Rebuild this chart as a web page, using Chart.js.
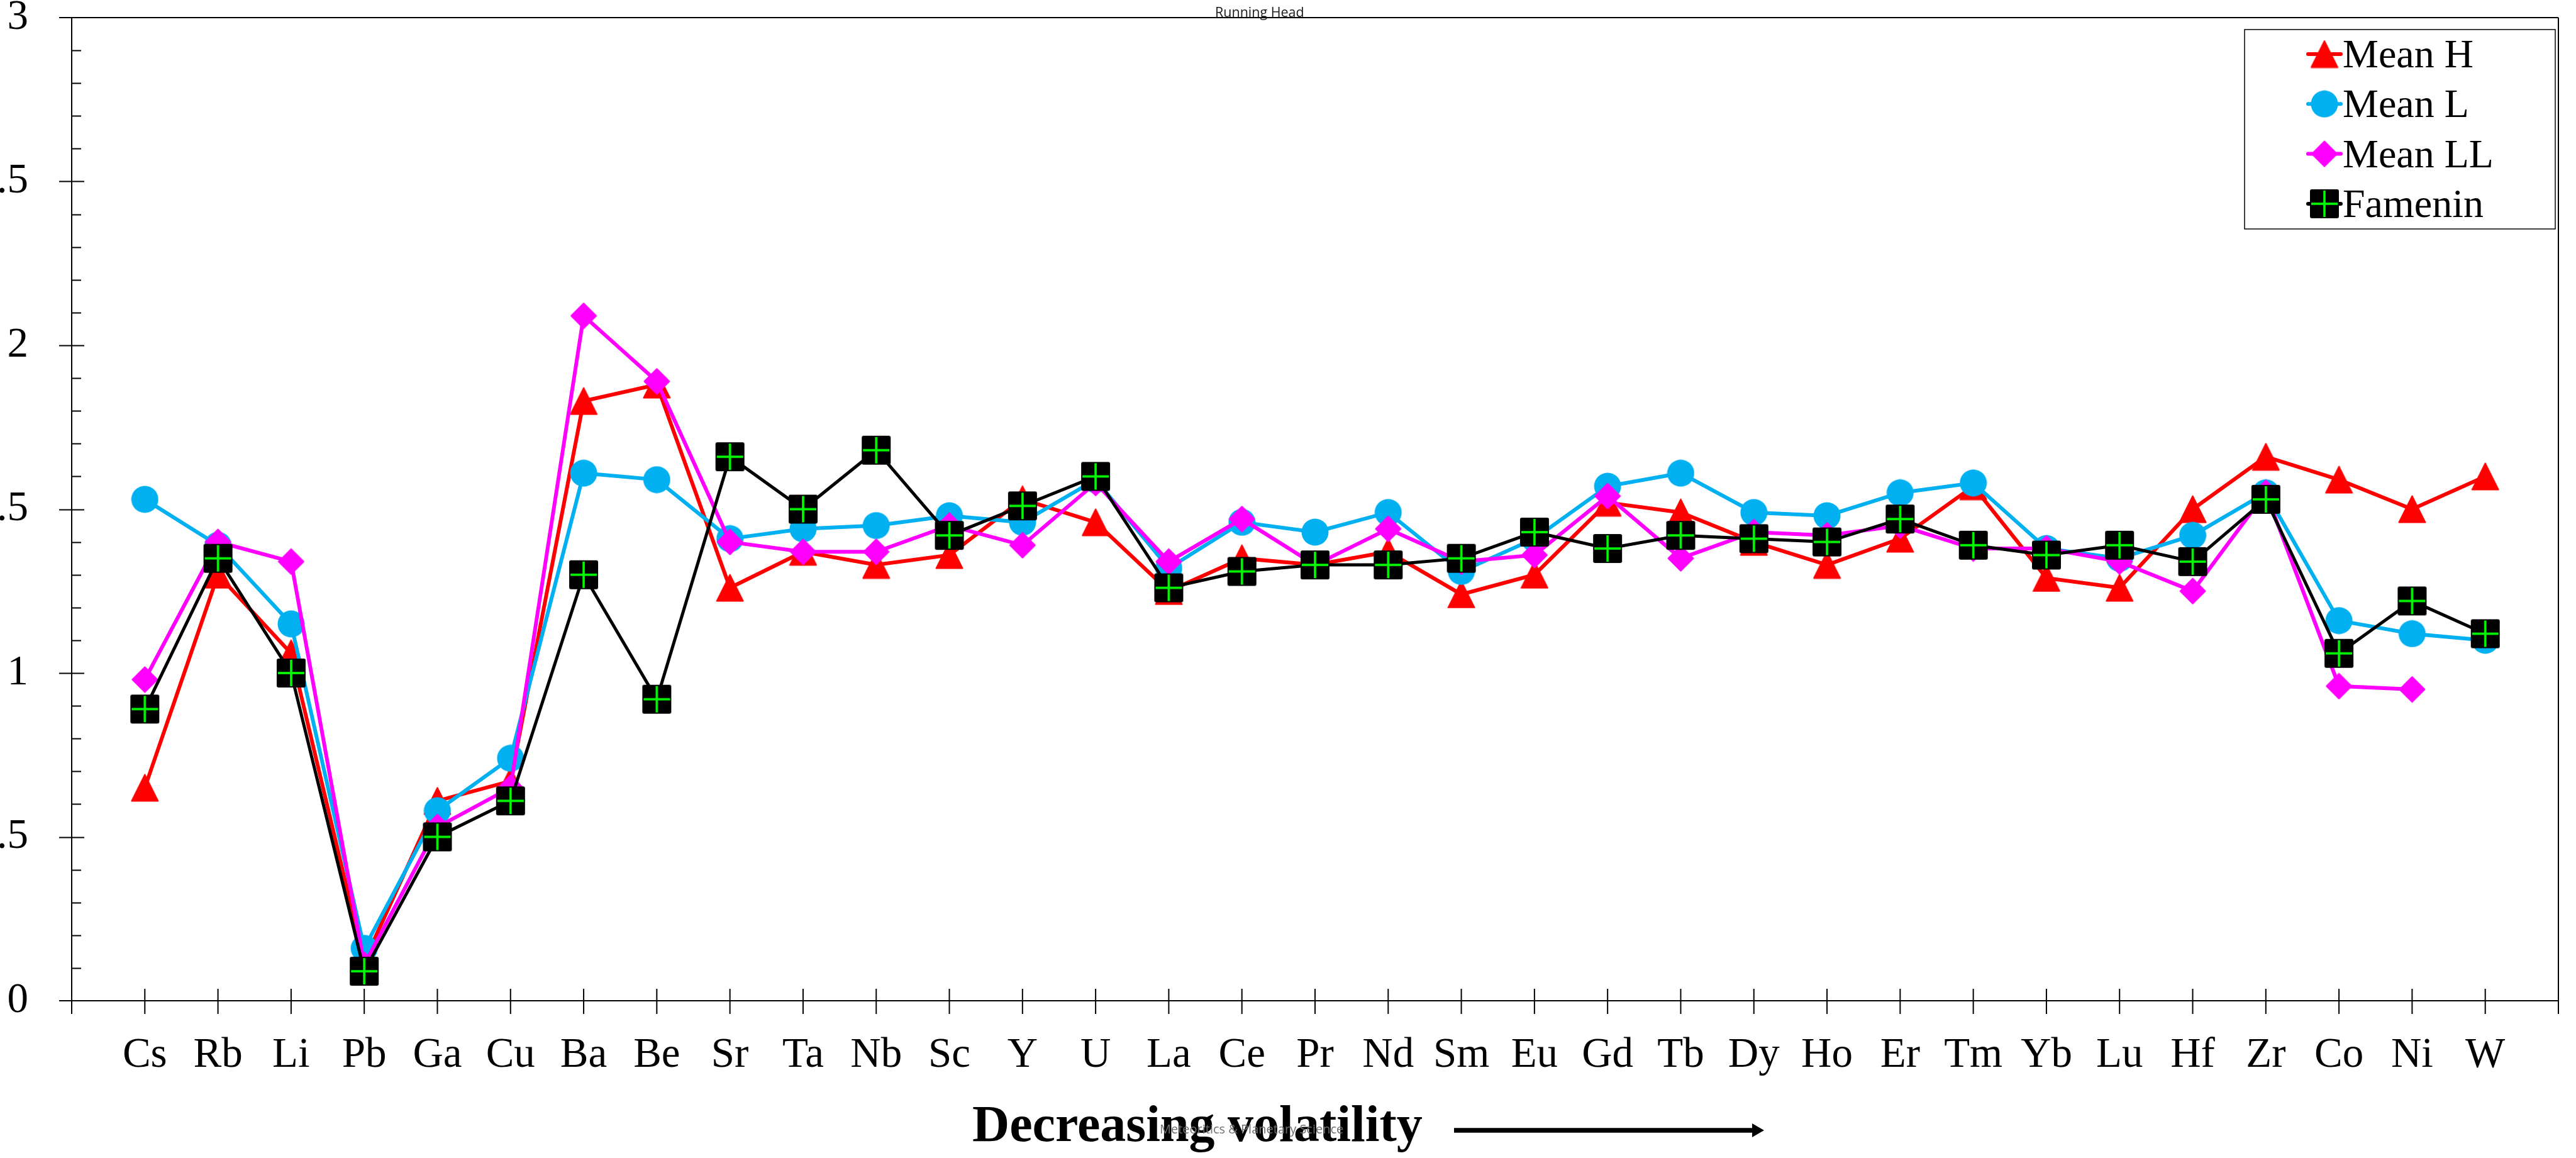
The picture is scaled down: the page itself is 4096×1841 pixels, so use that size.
<!DOCTYPE html>
<html>
<head>
<meta charset="utf-8">
<title>Decreasing volatility</title>
<script src="https://cdn.jsdelivr.net/npm/chart.js@4.4.1/dist/chart.umd.min.js"></script>
<style>
  html, body { margin: 0; padding: 0; background: #fff; overflow: hidden; }
  canvas { display: block; }
</style>
</head>
<body>
<canvas id="volatilityChart" width="4096" height="1841"></canvas>
<script>
// elements, ordered by decreasing volatility
const elements = ["Cs", "Rb", "Li", "Pb", "Ga", "Cu", "Ba", "Be", "Sr", "Ta", "Nb", "Sc", "Y", "U", "La",
  "Ce", "Pr", "Nd", "Sm", "Eu", "Gd", "Tb", "Dy", "Ho", "Er", "Tm", "Yb", "Lu", "Hf", "Zr", "Co", "Ni", "W"];

const meanH = [0.65, 1.30, 1.06, 0.12, 0.61, 0.67, 1.83, 1.88, 1.26, 1.37, 1.33, 1.36, 1.53, 1.46, 1.25,
  1.35, 1.33, 1.37, 1.24, 1.30, 1.52, 1.49, 1.40, 1.33, 1.41, 1.57, 1.29, 1.26, 1.50, 1.66, 1.59, 1.50, 1.60];

const meanL = [1.53, 1.39, 1.15, 0.16, 0.58, 0.74, 1.61, 1.59, 1.41, 1.44, 1.45, 1.48, 1.46, 1.59, 1.32,
  1.46, 1.43, 1.49, 1.31, 1.41, 1.57, 1.61, 1.49, 1.48, 1.55, 1.58, 1.38, 1.35, 1.42, 1.55, 1.16, 1.12, 1.10];

const meanLL = [0.98, 1.40, 1.34, 0.11, 0.53, 0.65, 2.09, 1.89, 1.40, 1.37, 1.37, 1.45, 1.39, 1.58, 1.34,
  1.47, 1.33, 1.44, 1.34, 1.36, 1.54, 1.35, 1.43, 1.42, 1.45, 1.38, 1.38, 1.34, 1.25, 1.55, 0.96, 0.95, null];

const famenin = [0.89, 1.35, 1.00, 0.09, 0.50, 0.61, 1.30, 0.92, 1.66, 1.50, 1.68, 1.42, 1.51, 1.60, 1.26,
  1.31, 1.33, 1.33, 1.35, 1.43, 1.38, 1.42, 1.41, 1.40, 1.47, 1.39, 1.36, 1.39, 1.34, 1.53, 1.06, 1.22, 1.12];

const yTicks = [0, 0.5, 1, 1.5, 2, 2.5, 3];

// marker sprites, used both on the plot and in the legend
function makeMarker(kind, size, color) {
  const c = document.createElement("canvas");
  c.width = size;
  c.height = size;
  const g = c.getContext("2d");
  const m = size / 2;
  g.fillStyle = color;
  g.strokeStyle = color;
  g.lineJoin = "round";
  g.lineWidth = 2;
  g.beginPath();
  if (kind === "triangle") {
    g.moveTo(m, 1.5);
    g.lineTo(size - 1.5, size - 1.5);
    g.lineTo(1.5, size - 1.5);
    g.closePath();
    g.fill();
    g.stroke();
  } else if (kind === "circle") {
    g.arc(m, m, m - 0.5, 0, Math.PI * 2);
    g.fill();
  } else if (kind === "diamond") {
    g.moveTo(m, 1.5);
    g.lineTo(size - 1.5, m);
    g.lineTo(m, size - 1.5);
    g.lineTo(1.5, m);
    g.closePath();
    g.fill();
    g.stroke();
  } else {
    g.roundRect(1, 1, size - 2, size - 2, 3);
    g.fill();
    g.fillStyle = "#00ff00";
    g.fillRect(3, m - 1.8, size - 6, 3.6);
    g.fillRect(m - 1.8, 3, 3.6, size - 6);
  }
  return c;
}

const series = [
  { label: "Mean H", data: meanH, color: "#ff0000", width: 6, marker: makeMarker("triangle", 45, "#ff0000") },
  { label: "Mean L", data: meanL, color: "#00b0f0", width: 6, marker: makeMarker("circle", 44, "#00b0f0") },
  { label: "Mean LL", data: meanLL, color: "#ff00ff", width: 6, marker: makeMarker("diamond", 43, "#ff00ff") },
  { label: "Famenin", data: famenin, color: "#000000", width: 5, marker: makeMarker("square", 48, "#000000") }
];

const serif = "'Liberation Serif', 'Times New Roman', serif";
const sans = "'Open Sans', 'Noto Sans', sans-serif";

// axis lines, frame and tick marks
const axisFrame = {
  id: "axisFrame",
  beforeDatasetsDraw(chart) {
    const { ctx, chartArea: a, scales: { x, y } } = chart;
    ctx.save();
    ctx.strokeStyle = "#000";
    ctx.lineWidth = 2;
    ctx.beginPath();
    ctx.moveTo(a.left, a.top);
    ctx.lineTo(a.left, a.bottom + 21);
    ctx.moveTo(a.right, a.top);
    ctx.lineTo(a.right, a.bottom + 21);
    ctx.moveTo(a.left - 20, a.bottom);
    ctx.lineTo(a.right, a.bottom);
    ctx.moveTo(a.left - 20, a.top);
    ctx.lineTo(a.right, a.top);
    for (let k = 1; k < 30; k++) {
      const py = Math.round(y.getPixelForValue(k / 10)) + 0.5;
      if (k % 5 === 0) {
        ctx.moveTo(a.left - 20, py);
        ctx.lineTo(a.left + 20, py);
      } else {
        ctx.moveTo(a.left, py);
        ctx.lineTo(a.left + 15, py);
      }
    }
    for (let i = 1; i <= elements.length; i++) {
      const px = x.getPixelForValue(i);
      ctx.moveTo(px, a.bottom - 19);
      ctx.lineTo(px, a.bottom + 21);
    }
    ctx.stroke();
    ctx.restore();
  }
};

// legend box, axis title, arrow and the page labels
const annotations = {
  id: "annotations",
  afterDraw(chart) {
    const ctx = chart.ctx;
    ctx.save();

    ctx.strokeStyle = "#000";
    ctx.lineWidth = 1.5;
    ctx.strokeRect(3569, 47, 494, 317);
    ctx.font = "64px " + serif;
    ctx.fillStyle = "#000";
    ctx.textAlign = "left";
    ctx.textBaseline = "alphabetic";
    series.forEach((s, i) => {
      const cy = 86 + i * 79.3;
      ctx.strokeStyle = s.color;
      ctx.lineWidth = 6;
      ctx.lineCap = "round";
      ctx.beginPath();
      ctx.moveTo(3670, cy);
      ctx.lineTo(3722, cy);
      ctx.stroke();
      ctx.drawImage(s.marker, 3696 - s.marker.width / 2, cy - s.marker.height / 2);
      ctx.fillStyle = "#000";
      ctx.fillText(s.label, 3725, cy + 21);
    });

    ctx.font = "bold 82px " + serif;
    ctx.fillText("Decreasing volatility", 1546, 1814);

    ctx.lineCap = "butt";
    ctx.strokeStyle = "#000";
    ctx.lineWidth = 7.3;
    ctx.beginPath();
    ctx.moveTo(2312, 1797);
    ctx.lineTo(2790, 1797);
    ctx.stroke();
    ctx.beginPath();
    ctx.moveTo(2786, 1786);
    ctx.lineTo(2805, 1797);
    ctx.lineTo(2786, 1808);
    ctx.closePath();
    ctx.fill();

    ctx.font = "21.5px " + sans;
    ctx.fillStyle = "#1a1a1a";
    ctx.fillText("Running Head", 1932, 27);

    ctx.font = "20px " + sans;
    ctx.fillStyle = "#707070";
    ctx.fillText("Meteoritics & Planetary Science", 1844, 1802);

    ctx.restore();
  }
};

new Chart(document.getElementById("volatilityChart"), {
  type: "line",
  data: {
    labels: ["", ...elements, ""],
    datasets: series.map((s, i) => ({
      label: s.label,
      data: [null, ...s.data, null],
      borderColor: s.color,
      backgroundColor: s.color,
      borderWidth: s.width,
      pointStyle: s.marker,
      pointRadius: 22,
      pointHoverRadius: 22,
      tension: 0,
      spanGaps: false,
      order: series.length - i
    }))
  },
  options: {
    responsive: false,
    devicePixelRatio: 1,
    animation: false,
    events: [],
    layout: { padding: { top: 21, right: 4, left: 0, bottom: 0 } },
    plugins: {
      legend: { display: false },
      tooltip: { enabled: false }
    },
    scales: {
      x: {
        type: "category",
        offset: false,
        grid: { display: false },
        border: { display: false },
        ticks: {
          autoSkip: false,
          maxRotation: 0,
          minRotation: 0,
          padding: 39,
          color: "#000",
          font: { family: serif, size: 67 }
        },
        afterFit(scale) {
          scale.height = 250;
          scale.paddingLeft = 0;
          scale.paddingRight = 0;
        }
      },
      y: {
        min: 0,
        max: 3,
        grid: { display: false },
        border: { display: false },
        ticks: {
          padding: 61,
          color: "#000",
          font: { family: serif, size: 67 },
          callback: (v) => String(v)
        },
        afterBuildTicks(scale) {
          scale.ticks = yTicks.map((v) => ({ value: v }));
        },
        afterFit(scale) {
          scale.width = 114;
          scale.paddingTop = 0;
          scale.paddingBottom = 0;
        }
      }
    }
  },
  plugins: [axisFrame, annotations]
});
</script>
</body>
</html>
